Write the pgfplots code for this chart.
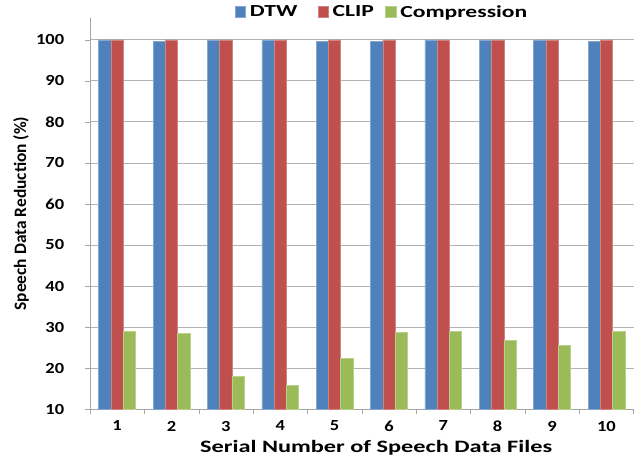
\documentclass[border=0pt]{standalone}
\usepackage{pgfplots}
\pgfplotsset{compat=1.18}
\usepackage{fontspec}
\setmainfont{Carlito}[FakeStretch=1.4]
\newfontfamily\tickfont{Carlito}[FakeStretch=1.2]
\newfontfamily\ylfont{Carlito}
\definecolor{cblue}{HTML}{4F81BD}
\definecolor{cred}{HTML}{C0504D}
\definecolor{cgreen}{HTML}{9BBB59}
\begin{document}
\begin{tikzpicture}
\begin{axis}[
  scale only axis,
  width=413pt, height=297pt,
  ybar=0pt, bar width=0.225,
  xmin=0.5, xmax=10.5,
  ymin=10, ymax=105.3,
  ytick={10,20,...,100},
  xtick={1,...,10},
  minor xtick={0.5,1.5,...,10.5},
  axis lines*=left,
  axis line style={draw=gray!70},
  major x tick style={draw=none},
  minor x tick style={draw=gray!70},
  y tick style={draw=gray!70},
  tick align=outside,
  major tick length=4pt, minor tick length=4pt,
  ymajorgrids, grid style={draw=gray!60, line width=0.6pt},
  tick label style={font=\tickfont\bfseries\fontsize{11.7}{13}\selectfont},
  /pgf/number format/assume math mode=true,
  yticklabel style={xshift=-12pt},
  xticklabel style={yshift=-1.5pt},
  ylabel={\ylfont\bfseries Speech Data Reduction (\%)},
  xlabel={\bfseries Serial Number of Speech Data Files},
  label style={font=\bfseries\fontsize{13.2}{14}\selectfont},
  ylabel style={inner ysep=10pt, yshift=-8pt},
  xlabel style={yshift=0pt, xshift=11pt},
  legend style={at={(0.538,1)}, anchor=center, yshift=4.5pt, draw=none, fill=none,
    font=\bfseries\fontsize{12.8}{14}\selectfont, legend columns=3,
    /tikz/every odd column/.append style={column sep=1pt}},
  legend image code/.code={\fill[#1] (0pt,-3.5pt) rectangle (8pt,4.5pt);},
]
\addplot[fill=cblue, draw=cblue!70!white] coordinates {(1,100) (2,99.6) (3,100) (4,100) (5,99.6) (6,99.6) (7,100) (8,100) (9,100) (10,99.6)};
\addplot[fill=cred, draw=cred!70!white] coordinates {(1,100) (2,100) (3,100) (4,100) (5,100) (6,100) (7,100) (8,100) (9,100) (10,100)};
\addplot[fill=cgreen, draw=cgreen!70!white] coordinates {(1,29.0) (2,28.4) (3,17.9) (4,15.7) (5,22.3) (6,28.7) (7,29.0) (8,26.8) (9,25.6) (10,29.0)};
\legend{\makebox[49.5pt][l]{DTW}, \makebox[38pt][l]{CLIP}, Compression}
\end{axis}
\end{tikzpicture}
\end{document}
